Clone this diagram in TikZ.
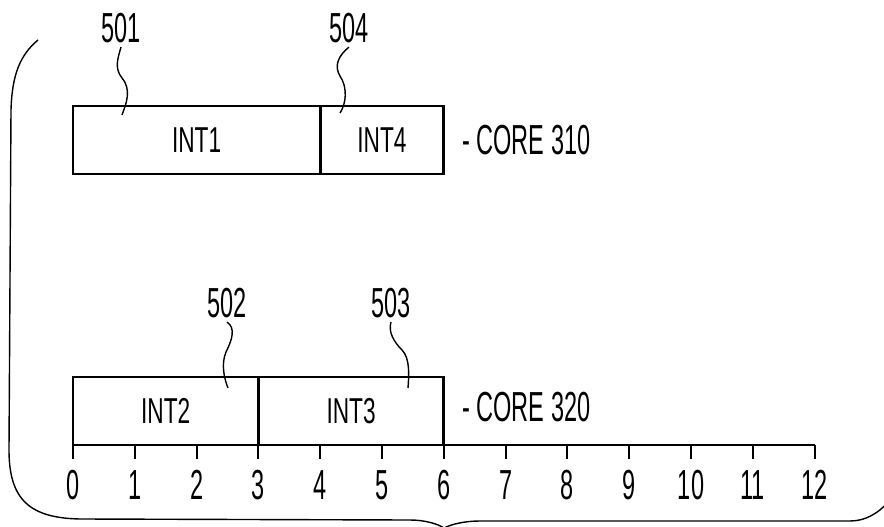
\documentclass[tikz,border=0pt]{standalone}
\usepackage{fontspec}
\setmainfont{Liberation Sans}
\newfontfamily\refnumfont[FakeStretch=0.56]{Liberation Sans}
\newfontfamily\intnamefont[FakeStretch=0.63]{Liberation Sans}
\begin{document}
\begin{tikzpicture}[x=1pt,y=-1pt,
  slot/.style={draw=black,line width=2.8pt,inner sep=0pt,outer sep=0pt,minimum height=68pt,
    font=\intnamefont\fontsize{36}{38}\selectfont},
  refnum/.style={inner sep=1pt,font=\refnumfont\fontsize{42}{44}\selectfont},
  corelabel/.style={anchor=west,inner sep=0pt,font=\refnumfont\fontsize{42}{44}\selectfont},
  leader/.style={draw=black,line width=1.4pt},
  tick/.style={draw=black,line width=2pt}]
\path[use as bounding box] (0,0) rectangle (884,527);
\path[fill=white] (0,0) rectangle (884,527);
% core 310
\node[slot,minimum width=247.2pt] (int1) at (196.6,140) {INT1};
\node[slot,minimum width=123.6pt,anchor=west] (int4) at (int1.east) {INT4};
\node[corelabel] (core310) at (462,140) {- CORE 310};
% core 320
\node[slot,minimum width=185.4pt] (int2) at (165.7,411) {INT2};
\node[slot,minimum width=185.4pt,anchor=west] (int3) at (int2.east) {INT3};
\node[corelabel] (core320) at (462,407) {- CORE 320};
% time axis
\draw[line width=2.4pt] (int2.south west) -- (814.6,445);
\foreach \k in {0,...,12} {
  \draw[tick] ({73+61.8*\k},445) -- ++(0,14);
  \node[refnum] (t\k) at ({73+61.8*\k},485) {\k};
}
% reference numbers
\node[refnum] (l501) at (121,28) {501};
\node[refnum] (l504) at (349,28) {504};
\node[refnum] (l502) at (227,303) {502};
\node[refnum] (l503) at (391,303) {503};
\draw[leader] ([yshift=-3pt]l501.south) .. controls (118,58) and (114,68) .. (122,78) .. controls (132,90) and (126,104) .. (122,115);
\draw[leader] ([yshift=-3pt]l504.south) .. controls (338,56) and (334,66) .. (340,76) .. controls (348,88) and (346,104) .. (340,113);
\draw[leader] ([yshift=-3pt]l502.south) .. controls (236,328) and (232,340) .. (226,352) .. controls (221,364) and (224,378) .. (228,388);
\draw[leader] ([yshift=-3pt]l503.south) .. controls (388,332) and (394,342) .. (402,350) .. controls (410,358) and (409,375) .. (408,388);
% brace
\draw[line width=1.4pt] (38,40) .. controls (20,55) and (12,75) .. (11,110) -- (9,450)
  .. controls (9,500) and (30,518) .. (80,519) -- (410,520)
  .. controls (425,520) and (438,524) .. (444,528)
  .. controls (452,524) and (465,521) .. (480,521) -- (850,521)
  .. controls (865,521) and (878,514) .. (890,500);
\end{tikzpicture}
\end{document}
